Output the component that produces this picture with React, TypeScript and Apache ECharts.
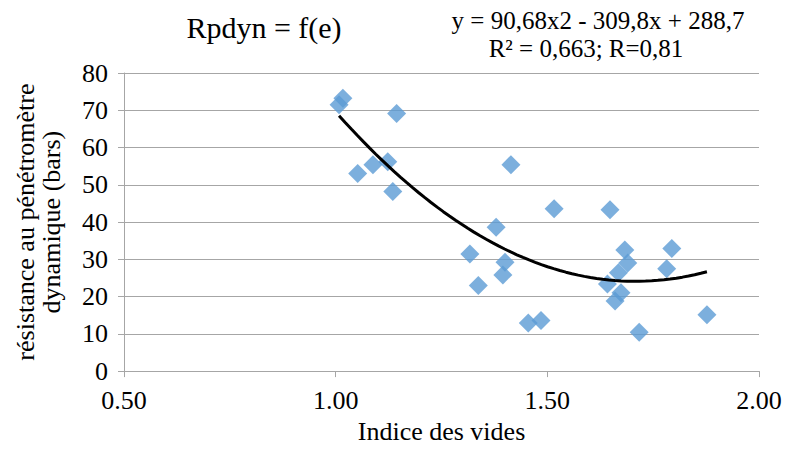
import React, { useEffect, useRef } from "react";
import * as echarts from "echarts";

const indiceVides: number[] = [
  1.008, 1.017, 1.144, 1.052, 1.088, 1.123, 1.135, 1.414,
  1.317, 1.337, 1.379, 1.400, 1.395, 1.455, 1.485, 1.516,
  1.648, 1.642, 1.668, 1.683, 1.690, 1.674, 1.660, 1.794,
  1.782, 1.877, 1.717,
];
const resistance: number[] = [
  71.5, 73.2, 69.1, 53.0, 55.4, 56.2, 48.2, 55.4,
  31.4, 23.0, 38.6, 29.2, 25.8, 12.9, 13.6, 43.6,
  43.3, 23.4, 26.4, 32.5, 29.0, 21.0, 18.8, 32.9,
  27.5, 15.1, 10.4,
];
// Trend line coefficients shown on the chart: y = a x² + b x + c
const trendCoefs: number[] = [90.68, -309.8, 288.7];
const trendRange: number[] = [1.008, 1.877];
const xTicks: number[] = [0.5, 1.0, 1.5, 2.0];
const yTicks: number[] = [0, 10, 20, 30, 40, 50, 60, 70, 80];

const FONT = "'Liberation Serif', 'Times New Roman', serif";

export default function App() {
  const ref = useRef<HTMLDivElement>(null);
  useEffect(() => {
    document.body.style.margin = "0";
    if (!ref.current) return;
    const chart = echarts.init(ref.current, undefined, { renderer: "svg" });
    const points = indiceVides.map((x, i) => [x, resistance[i]]);
    const trend: number[][] = [];
    const steps = 60;
    for (let i = 0; i <= steps; i++) {
      const x = trendRange[0] + ((trendRange[1] - trendRange[0]) * i) / steps;
      trend.push([x, trendCoefs[0] * x * x + trendCoefs[1] * x + trendCoefs[2]]);
    }
    chart.setOption({
      animation: false,
      backgroundColor: "#ffffff",
      textStyle: { fontFamily: FONT },
      grid: { left: 124, right: 26, top: 73, bottom: 67 },
      graphic: [
        {
          type: "text",
          x: 264,
          y: 27,
          style: {
            text: "Rpdyn = f(e)",
            fontFamily: FONT,
            fontSize: 30,
            fill: "#000",
            align: "center",
            verticalAlign: "middle",
          },
        },
        {
          type: "text",
          x: 598,
          y: 20,
          style: {
            text: "y = 90,68x2 - 309,8x + 288,7",
            fontFamily: FONT,
            fontSize: 25,
            fill: "#000",
            align: "center",
            verticalAlign: "middle",
          },
        },
        {
          type: "text",
          x: 586,
          y: 48,
          style: {
            text: "R² = 0,663; R=0,81",
            fontFamily: FONT,
            fontSize: 25,
            fill: "#000",
            align: "center",
            verticalAlign: "middle",
          },
        },
      ],
      xAxis: {
        type: "value",
        min: xTicks[0],
        max: xTicks[xTicks.length - 1],
        interval: 0.5,
        name: "Indice des vides",
        nameLocation: "middle",
        nameGap: 42,
        nameTextStyle: { fontFamily: FONT, fontSize: 26, color: "#000" },
        axisLine: { show: true, lineStyle: { color: "#a6a6a6", width: 1 } },
        axisTick: { show: true, length: 6, lineStyle: { color: "#a6a6a6" } },
        axisLabel: {
          fontFamily: FONT,
          fontSize: 26,
          color: "#000",
          margin: 16,
          formatter: (v: number) => v.toFixed(2),
        },
        splitLine: { show: false },
      },
      yAxis: {
        type: "value",
        min: yTicks[0],
        max: yTicks[yTicks.length - 1],
        interval: 10,
        name: "résistance au pénétromètre\ndynamique (bars)",
        nameLocation: "middle",
        nameRotate: 90,
        nameGap: 60,
        nameTextStyle: { fontFamily: FONT, fontSize: 26, color: "#000", lineHeight: 26 },
        axisLine: { show: true, lineStyle: { color: "#a6a6a6", width: 1 } },
        axisTick: { show: true, length: 6, lineStyle: { color: "#a6a6a6" } },
        axisLabel: { fontFamily: FONT, fontSize: 26, color: "#000", margin: 16 },
        splitLine: { show: true, lineStyle: { color: "#a6a6a6", width: 1 } },
      },
      series: [
        {
          type: "scatter",
          data: points,
          symbol: "diamond",
          symbolSize: 19,
          itemStyle: { color: "#5b9bd5" },
          z: 3,
        },
        {
          type: "line",
          data: trend,
          showSymbol: false,
          smooth: false,
          lineStyle: { color: "#000", width: 3 },
          z: 4,
        },
      ],
    });
    return () => chart.dispose();
  }, []);
  return <div ref={ref} style={{ width: 785, height: 449 }} />;
}
